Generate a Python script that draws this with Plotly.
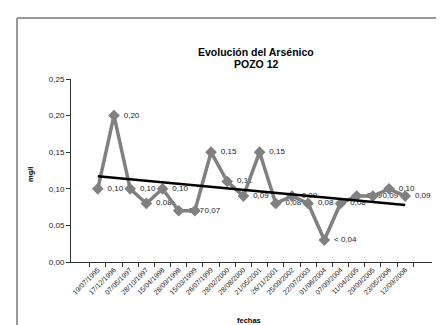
import plotly.graph_objects as go
import numpy as np

fechas = ["19/07/1995", "17/12/1996", "07/05/1997", "28/10/1997", "15/04/1998",
          "28/09/1998", "15/03/1999", "26/07/1999", "28/02/2000", "28/08/2000",
          "21/05/2001", "26/11/2001", "25/09/2002", "22/07/2003", "01/06/2004",
          "07/09/2004", "11/04/2005", "20/09/2005", "23/05/2006", "12/09/2006"]
arsenico = [0.10, 0.20, 0.10, 0.08, 0.10, 0.07, 0.07, 0.15, 0.11, 0.09,
            0.15, 0.08, 0.09, 0.08, 0.03, 0.08, 0.09, 0.09, 0.10, 0.09]
etiquetas = ["0,10", "0,20", "0,10", "0,08", "0,10", "0,07", "0,07", "0,15", "0,11", "0,09",
             "0,15", "0,08", "0,09", "0,08", "&lt; 0,04", "0,08", "0,09", "0,09", "0,10", "0,09"]
y_ticks = [0.00, 0.05, 0.10, 0.15, 0.20, 0.25]

# linear trend (Excel-style) computed from the data
xi = np.arange(1, len(arsenico) + 1)
m, b = np.polyfit(xi, arsenico, 1)
tendencia = m * xi + b

W, H = 444, 325
L, R, T, B = 63, 20, 71, 71
pw, ph = W - L - R, H - T - B

def px(x):
    return (x - L) / pw

def py(y):
    return 1 + (T - y) / ph

FONT = "Liberation Sans, Arial, sans-serif"
GRAY = "#808080"

fig = go.Figure()
# labels first so the lines are drawn over them (as in the reference)
fig.add_trace(go.Scatter(
    x=fechas, y=arsenico, mode="markers+text", text=etiquetas,
    textposition="middle right",
    marker=dict(size=14, color="rgba(0,0,0,0)"),
    textfont=dict(family=FONT, size=8, color="#222222"),
    hoverinfo="skip", showlegend=False, cliponaxis=False))
fig.add_trace(go.Scatter(
    x=fechas, y=arsenico, mode="lines+markers",
    line=dict(color=GRAY, width=3.5),
    marker=dict(symbol="diamond", size=9, color=GRAY),
    showlegend=False, cliponaxis=False))
fig.add_trace(go.Scatter(
    x=fechas, y=tendencia, mode="lines",
    line=dict(color="black", width=2.5),
    showlegend=False, cliponaxis=False))

fig.update_layout(
    width=W, height=H,
    margin=dict(l=L, r=R, t=T, b=B, autoexpand=False),
    paper_bgcolor="white", plot_bgcolor="white",
    separators=",.",
    font=dict(family=FONT, size=8, color="#222222"),
    showlegend=False,
)
fig.update_xaxes(
    type="category", tickangle=-45, tickson="boundaries",
    ticks="outside", ticklen=4, tickcolor="#333333",
    showline=True, linecolor="#333333", linewidth=1,
    showgrid=False, zeroline=False,
    tickfont=dict(family=FONT, size=7, color="#222222"),
)
fig.update_yaxes(
    range=[0, 0.25], tickvals=y_ticks, tickformat=".2f",
    ticks="outside", ticklen=4, tickcolor="#333333",
    showline=True, linecolor="#333333", linewidth=1,
    showgrid=False, zeroline=False,
    tickfont=dict(family=FONT, size=8, color="#222222"),
)

# outer chart-area border (only its top and left edges are visible)
fig.add_shape(type="line", xref="paper", yref="paper",
              x0=px(9), x1=px(9), y0=py(10), y1=py(325),
              line=dict(color="#999999", width=2))
fig.add_shape(type="line", xref="paper", yref="paper",
              x0=px(9), x1=px(444), y0=py(10), y1=py(10),
              line=dict(color="#999999", width=2))

fig.add_annotation(text="<b>Evolución del Arsénico</b>", xref="paper", yref="paper",
                   x=px(248), y=py(44), showarrow=False, xanchor="center", yanchor="middle",
                   font=dict(family=FONT, size=10.5, color="black"))
fig.add_annotation(text="<b>POZO 12</b>", xref="paper", yref="paper",
                   x=px(248), y=py(56), showarrow=False, xanchor="center", yanchor="middle",
                   font=dict(family=FONT, size=10.5, color="black"))
fig.add_annotation(text="<b>mg/l</b>", xref="paper", yref="paper",
                   x=px(22), y=py(167), showarrow=False, textangle=-90,
                   xanchor="center", yanchor="middle",
                   font=dict(family=FONT, size=7.5, color="black"))
fig.add_annotation(text="<b>fechas</b>", xref="paper", yref="paper",
                   x=px(241), y=py(312), showarrow=False,
                   xanchor="center", yanchor="middle",
                   font=dict(family=FONT, size=7.5, color="black"))

fig.write_html("out.html")
